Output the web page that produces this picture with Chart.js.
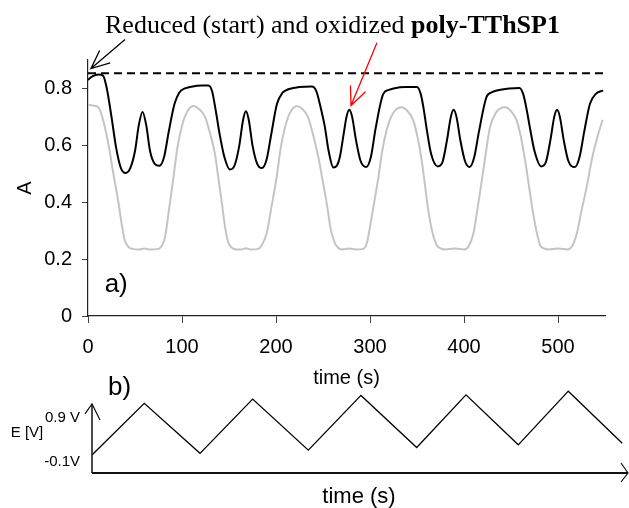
<!DOCTYPE html>
<html>
<head>
<meta charset="utf-8">
<title>poly-TThSP1</title>
<script src="https://cdn.jsdelivr.net/npm/chart.js@4.4.1/dist/chart.umd.min.js"></script>
<style>
html,body{margin:0;padding:0;background:#fff;}
#wrap{position:relative;width:629px;height:508px;overflow:hidden;}
#chartA{position:absolute;left:0;top:0;width:629px;height:390px;}
#chartB{position:absolute;left:0;top:370px;width:629px;height:138px;}
</style>
</head>
<body>
<div id="wrap">
<canvas id="chartA" width="629" height="390"></canvas>
<canvas id="chartB" width="629" height="138"></canvas>
</div>
<script>
// ==========================
// DATA
// ==========================

// black curve (time s / absorbance)
const timeBlack = [
0,5,11,16,20,25,30,35,40,45,
50,54,58,62,66,71,76,81,86,92,
97,103,110,121,128,132,136,140,145,151,
156,161,165,168,171,175,180,185,190,195,
201,207,213,225,238,243,247,252,256,261,
265,268,272,275,278,281,285,290,296,301,
306,314,320,325,338,350,354,357,360,365,
372,377,382,386,389,392,396,401,406,411,
416,424,430,435,448,459,463,467,470,475,
482,487,492,496,499,502,506,511,518,523,
528,534,540,548
];
const absBlack = [
0.830,0.843,0.849,0.845,0.800,0.700,0.590,0.520,0.503,0.520,
0.580,0.670,0.717,0.670,0.580,0.535,0.528,0.560,0.650,0.745,
0.785,0.800,0.806,0.810,0.810,0.790,0.720,0.640,0.560,0.515,
0.530,0.600,0.690,0.720,0.690,0.600,0.535,0.520,0.550,0.640,
0.745,0.785,0.797,0.805,0.807,0.790,0.740,0.664,0.580,0.522,
0.530,0.560,0.640,0.700,0.725,0.700,0.620,0.545,0.524,0.560,
0.660,0.780,0.795,0.800,0.805,0.805,0.780,0.730,0.664,0.570,
0.526,0.540,0.620,0.700,0.725,0.700,0.620,0.545,0.524,0.560,
0.650,0.770,0.787,0.793,0.800,0.802,0.780,0.720,0.664,0.580,
0.526,0.540,0.620,0.700,0.725,0.700,0.620,0.545,0.524,0.560,
0.650,0.746,0.780,0.793
];

// grey curve
const timeGray = [
0,5,11,16,21.6,27,32,36,39,43,
47,55,60,65,75,79,82,86,91,95,
99.6,105,112,118,124.5,130,135,138.5,142,146,
149,153,158,163,168,173,181,185,190,195,
200.7,205,209.6,215,222,228,234,240,245,250,
254,258.5,262.8,266,270,278,285,293,297,300,
304.5,309,313,317.7,324,333.7,340,346,350.5,355,
358.5,362,366,371,375,380,390,400,405,410,
414.5,419,423.5,427.7,434,443.6,450,456,460.5,465,
469,473,477,481,485,490,500,510,515,520,
525,530.5,536,542,547.5
];
const absGray = [
0.743,0.740,0.734,0.690,0.606,0.500,0.407,0.320,0.267,0.243,
0.236,0.234,0.237,0.234,0.236,0.250,0.278,0.370,0.489,0.590,
0.664,0.715,0.738,0.728,0.700,0.640,0.571,0.490,0.407,0.310,
0.260,0.240,0.234,0.234,0.238,0.234,0.236,0.250,0.290,0.380,
0.489,0.590,0.664,0.715,0.737,0.728,0.700,0.630,0.559,0.470,
0.395,0.300,0.255,0.240,0.234,0.237,0.234,0.236,0.260,0.313,
0.400,0.489,0.580,0.653,0.710,0.734,0.720,0.688,0.630,0.547,
0.460,0.372,0.300,0.249,0.238,0.234,0.237,0.234,0.245,0.290,
0.380,0.477,0.580,0.664,0.715,0.734,0.720,0.688,0.630,0.547,
0.460,0.372,0.300,0.249,0.238,0.234,0.237,0.234,0.245,0.290,
0.370,0.454,0.550,0.630,0.690
];

// dashed reference level (reduced start)
const refLevel = 0.853;
const refSpan = [0, 549];

// potential sweep, panel b
const timeE = [0,55.8,115.3,171.5,230.9,287.1,346.6,399.2,455,508.4,566];
const potE  = [-0.11,0.86,-0.08,0.94,-0.02,1.01,0.03,1.02,0.08,1.09,0.11];

// ticks
const timeTicks = [0,100,200,300,400,500];
const absTicks = [0,0.2,0.4,0.6,0.8];
const potTicks = [-0.1,0.9];
const potLabels = ["-0.1V","0.9 V"];


// ==========================
// SETTING DEFAULT CHART
// ==========================

Chart.defaults.font.family = "'Liberation Sans', Arial, sans-serif";
Chart.defaults.color = "#000";
Chart.defaults.animation = false;

const toXY = (xs, ys) => xs.map((v, i) => ({x: v, y: ys[i]}));

function panah(ctx, x0, y0, x1, y1, warna, panjang) {
    const sudut = Math.atan2(y1 - y0, x1 - x0);
    const buka = 0.42;
    ctx.save();
    ctx.strokeStyle = warna;
    ctx.lineWidth = 1.3;
    ctx.beginPath();
    ctx.moveTo(x0, y0);
    ctx.lineTo(x1, y1);
    ctx.moveTo(x1 - panjang * Math.cos(sudut - buka), y1 - panjang * Math.sin(sudut - buka));
    ctx.lineTo(x1, y1);
    ctx.lineTo(x1 - panjang * Math.cos(sudut + buka), y1 - panjang * Math.sin(sudut + buka));
    ctx.stroke();
    ctx.restore();
}


// ==========================
// a) ABSORBANCE
// ==========================

const hiasanA = {
    id: "hiasanA",
    afterDraw(chart) {
        const {ctx} = chart;
        const {x, y} = chart.scales;
        ctx.save();

        // heading, mixed normal + bold
        ctx.fillStyle = "#000";
        ctx.textAlign = "left";
        ctx.textBaseline = "alphabetic";
        ctx.font = "26px 'Liberation Serif', 'Times New Roman', serif";
        const teks1 = "Reduced (start) and oxidized ";
        ctx.fillText(teks1, 105, 33);
        const w = ctx.measureText(teks1).width;
        ctx.font = "bold 26px 'Liberation Serif', 'Times New Roman', serif";
        ctx.fillText("poly-TThSP1", 105 + w, 33);

        // panel label
        ctx.font = "26px 'Liberation Sans', Arial, sans-serif";
        ctx.textAlign = "center";
        ctx.textBaseline = "middle";
        ctx.fillText("a)", x.getPixelForValue(30), y.getPixelForValue(0.109));
        ctx.restore();

        // arrows
        panah(ctx, x.getPixelForValue(39.4), y.getPixelForValue(0.972),
                   x.getPixelForValue(3.2), y.getPixelForValue(0.870), "#000", 20);
        panah(ctx, x.getPixelForValue(307.4), y.getPixelForValue(0.961),
                   x.getPixelForValue(279.8), y.getPixelForValue(0.740), "#ff0000", 20);
    }
};

new Chart(
document.getElementById("chartA"),
{
type: "line",
data: {
    datasets: [
        {
            data: toXY(timeGray, absGray),
            borderColor: "#c4c4c4",
            borderWidth: 2,
            pointRadius: 0,
            cubicInterpolationMode: "monotone"
        },
        {
            data: toXY(timeBlack, absBlack),
            borderColor: "#000",
            borderWidth: 2,
            pointRadius: 0,
            cubicInterpolationMode: "monotone"
        },
        {
            data: refSpan.map(t => ({x: t, y: refLevel})),
            borderColor: "#000",
            borderWidth: 2,
            borderDash: [8, 5],
            pointRadius: 0
        }
    ]
},
options: {
    responsive: false,
    layout: {padding: {top: 60, right: 24, left: 0, bottom: 0}},
    plugins: {legend: {display: false}, tooltip: {enabled: false}},
    scales: {
        x: {
            type: "linear",
            min: 0,
            max: 550,
            afterBuildTicks: s => { s.ticks = timeTicks.map(v => ({value: v})); },
            afterFit: s => { s.height = 74; },
            grid: {drawOnChartArea: false, tickLength: 7, color: "#444"},
            border: {color: "#222", width: 1.2},
            ticks: {font: {size: 20}, padding: 12, maxRotation: 0},
            title: {display: true, text: "time (s)", font: {size: 20}, padding: {top: 0, bottom: 0}}
        },
        y: {
            min: 0,
            max: 0.9,
            afterBuildTicks: s => { s.ticks = absTicks.map(v => ({value: v})); },
            afterFit: s => { s.width = 88; },
            grid: {drawOnChartArea: false, tickLength: 6, color: "#444"},
            border: {color: "#222", width: 1.2},
            ticks: {font: {size: 20}, padding: 10, callback: v => String(v)},
            title: {display: true, text: "A", font: {size: 20}, padding: {top: 13, bottom: 0}}
        }
    }
},
plugins: [hiasanA]
});


// ==========================
// b) POTENTIAL
// ==========================

const hiasanB = {
    id: "hiasanB",
    afterDraw(chart) {
        const {ctx, chartArea} = chart;
        const {x, y} = chart.scales;
        const x0 = x.getPixelForValue(0);
        const yb = chartArea.bottom;
        const yTop = y.getPixelForValue(0.85);

        ctx.save();
        ctx.strokeStyle = "#111";
        // time axis
        ctx.lineWidth = 2;
        ctx.beginPath();
        ctx.moveTo(x0, yb);
        ctx.lineTo(chartArea.right + 2, yb);
        ctx.stroke();
        ctx.lineWidth = 1.2;
        ctx.beginPath();
        ctx.moveTo(chartArea.right - 5, yb - 10);
        ctx.lineTo(chartArea.right + 2, yb);
        ctx.lineTo(chartArea.right - 5, yb + 9);
        ctx.stroke();
        // potential axis
        ctx.lineWidth = 1.5;
        ctx.beginPath();
        ctx.moveTo(x0, yb);
        ctx.lineTo(x0, yTop);
        ctx.stroke();
        ctx.lineWidth = 1.2;
        ctx.beginPath();
        ctx.moveTo(x0 - 7, yTop + 10);
        ctx.lineTo(x0, yTop);
        ctx.lineTo(x0 + 8, yTop + 16);
        ctx.stroke();

        ctx.fillStyle = "#000";
        ctx.font = "15px 'Liberation Sans', Arial, sans-serif";
        ctx.textBaseline = "middle";
        // tick labels sit a little below the level they name, as in the sketch
        ctx.textAlign = "right";
        potTicks.forEach((v, i) => {
            ctx.fillText(potLabels[i], x0 - 12, y.getPixelForValue(v) + (v > 0 ? 17 : 7));
        });
        ctx.textAlign = "center";
        ctx.fillText("E [V]", 27, y.getPixelForValue(0.3));
        ctx.font = "26px 'Liberation Sans', Arial, sans-serif";
        ctx.fillText("b)", x.getPixelForValue(29.4), y.getPixelForValue(1.15));
        ctx.restore();
    }
};

new Chart(
document.getElementById("chartB"),
{
type: "line",
data: {
    datasets: [{
        data: toXY(timeE, potE),
        borderColor: "#000",
        borderWidth: 1.3,
        pointRadius: 0,
        tension: 0
    }]
},
options: {
    responsive: false,
    layout: {padding: {top: 10, right: 3, left: 0, bottom: 0}},
    plugins: {legend: {display: false}, tooltip: {enabled: false}},
    scales: {
        x: {
            type: "linear",
            min: 0,
            max: 570,
            afterFit: s => { s.height = 35; },
            grid: {display: false},
            border: {display: false},
            ticks: {display: false},
            title: {display: true, text: "time (s)", font: {size: 22, lineHeight: 1}, padding: {top: 0, bottom: 0}}
        },
        y: {
            min: -0.45,
            max: 1.3,
            afterFit: s => { s.width = 92; },
            grid: {display: false},
            border: {display: false},
            ticks: {display: false}
        }
    }
},
plugins: [hiasanB]
});
</script>
</body>
</html>
